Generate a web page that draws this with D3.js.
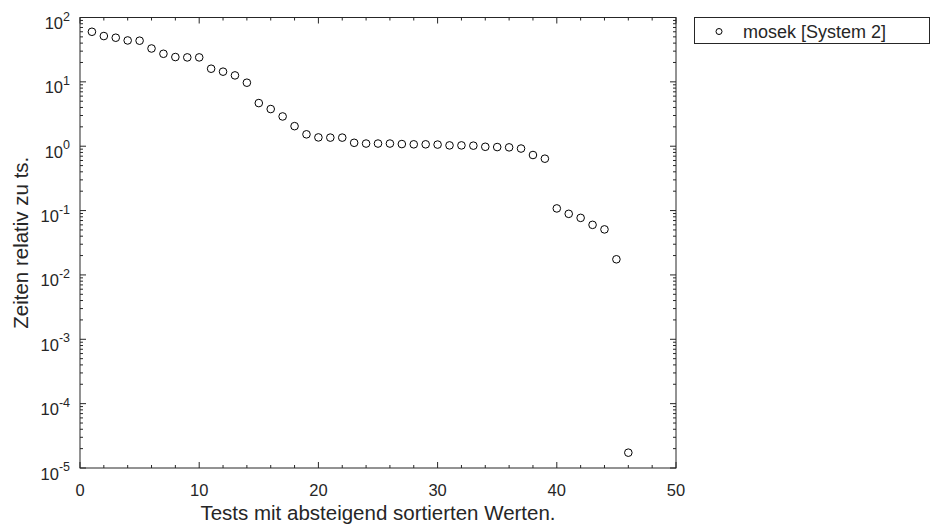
<!DOCTYPE html>
<html><head><meta charset="utf-8">
<script src="https://cdn.jsdelivr.net/npm/d3@7"></script>
<style>body{margin:0;background:#fff}svg{display:block}text{font-family:"Liberation Sans",Arial,sans-serif;fill:#262626}</style>
</head><body>
<svg id="c" width="931" height="526"></svg>
<script>
const testIndex = d3.range(1, 47);
const relTimes = [60, 51.5, 48.5, 44, 43.6, 33, 27.3, 24.3, 24, 24,
  16, 14.4, 12.6, 9.7, 4.68, 3.78, 2.9, 2.05, 1.53, 1.37,
  1.36, 1.36, 1.13, 1.1, 1.1, 1.1, 1.08, 1.07, 1.07, 1.06,
  1.03, 1.03, 1.02, 0.98, 0.97, 0.96, 0.92, 0.73, 0.64, 0.108,
  0.089, 0.077, 0.060, 0.051, 0.0175, 1.73e-5];
const seriesName = "mosek [System 2]";
const xTicks = [0, 10, 20, 30, 40, 50];
const yExponents = [-5, -4, -3, -2, -1, 0, 1, 2];
const xLabel = "Tests mit absteigend sortierten Werten.";
const yLabel = "Zeiten relativ zu ts.";

const svg = d3.select("#c");
const L = 80, R = 676, T = 17.5, B = 468;
const x = d3.scaleLinear().domain([0, 50]).range([L, R]);
const y = d3.scaleLog().domain([1e-5, 1e2]).range([B, T]);
const col = "#262626";

// box
svg.append("rect").attr("x", L).attr("y", T).attr("width", R - L).attr("height", B - T)
  .attr("fill", "none").attr("stroke", col).attr("stroke-width", 1);

const g = svg.append("g");
// x ticks
const xMinor = d3.range(0, 51, 2).filter(v => v % 10 !== 0);
xTicks.forEach(v => {
  g.append("line").attr("x1", x(v)).attr("x2", x(v)).attr("y1", B).attr("y2", B - 6).attr("stroke", col);
  g.append("line").attr("x1", x(v)).attr("x2", x(v)).attr("y1", T).attr("y2", T + 6).attr("stroke", col);
  svg.append("text").attr("x", x(v)).attr("y", 496).attr("text-anchor", "middle")
    .attr("font-size", 16.5).text(v);
});
xMinor.forEach(v => {
  g.append("line").attr("x1", x(v)).attr("x2", x(v)).attr("y1", B).attr("y2", B - 3).attr("stroke", col);
  g.append("line").attr("x1", x(v)).attr("x2", x(v)).attr("y1", T).attr("y2", T + 3).attr("stroke", col);
});
// y ticks
yExponents.forEach(e => {
  const v = Math.pow(10, e);
  g.append("line").attr("x1", L).attr("x2", L + 6).attr("y1", y(v)).attr("y2", y(v)).attr("stroke", col);
  g.append("line").attr("x1", R).attr("x2", R - 6).attr("y1", y(v)).attr("y2", y(v)).attr("stroke", col);
  if (e < 2) {
    for (let m = 2; m <= 9; m++) {
      const mv = m * v;
      g.append("line").attr("x1", L).attr("x2", L + 3).attr("y1", y(mv)).attr("y2", y(mv)).attr("stroke", col);
      g.append("line").attr("x1", R).attr("x2", R - 3).attr("y1", y(mv)).attr("y2", y(mv)).attr("stroke", col);
    }
  }
  const t = svg.append("text").attr("x", 70).attr("y", y(v) + 11.5).attr("text-anchor", "end").attr("font-size", 16.5);
  t.append("tspan").text("10");
  t.append("tspan").attr("dy", -8.5).attr("font-size", 12.5).text(e);
});

// points
svg.append("g").selectAll("circle").data(testIndex).join("circle")
  .attr("cx", (d) => x(d)).attr("cy", (d, i) => y(relTimes[i])).attr("r", 3.8)
  .attr("fill", "none").attr("stroke", "#000").attr("stroke-width", 1);

// axis labels
svg.append("text").attr("x", (L + R) / 2).attr("y", 519.5).attr("text-anchor", "middle")
  .attr("font-size", 20.5).text(xLabel);
svg.append("text").attr("transform", `translate(28,${(T + B) / 2}) rotate(-90)`)
  .attr("text-anchor", "middle").attr("font-size", 20.5).text(yLabel);

// legend
svg.append("rect").attr("x", 694.5).attr("y", 17.5).attr("width", 235).attr("height", 26)
  .attr("fill", "#fff").attr("stroke", col);
svg.append("circle").attr("cx", 719).attr("cy", 31.5).attr("r", 3).attr("fill", "none").attr("stroke", "#000");
svg.append("text").attr("x", 743).attr("y", 37.5).attr("font-size", 18).text(seriesName);
</script>
</body></html>
